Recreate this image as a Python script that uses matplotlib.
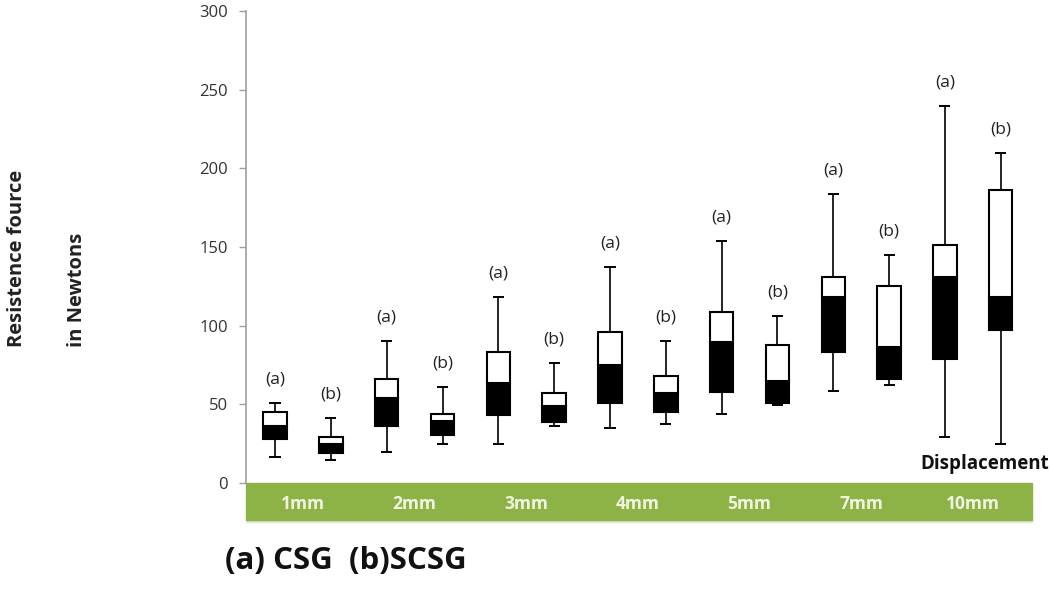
import numpy as np
import matplotlib
matplotlib.use("Agg")
import matplotlib.pyplot as plt
from matplotlib.patches import Rectangle
from matplotlib.transforms import blended_transform_factory

# ── Data ──────────────────────────────────────────────────────────
displacements = ["1mm", "2mm", "3mm", "4mm", "5mm", "7mm", "10mm"]

# (a) CSG
csg_min = [16.5, 20, 25, 35, 44, 58.5, 29.5]
csg_q1 = [28, 36, 43, 51, 58, 83, 78.5]
csg_med = [36, 54, 63.5, 75, 89.5, 118.5, 131]
csg_q3 = [45, 66, 83, 96, 109, 131, 151]
csg_max = [51, 90.5, 118, 137, 153.5, 183.5, 239.5]

# (b) SCSG
scsg_min = [14.5, 25, 36, 37.5, 49.5, 62, 25]
scsg_q1 = [19, 30.5, 38.5, 45, 51, 66, 97]
scsg_med = [25, 39.5, 49, 57, 65, 86.5, 118.5]
scsg_q3 = [29.5, 44, 57, 68, 88, 125, 186]
scsg_max = [41.5, 61, 76.5, 90.5, 106, 145, 209.5]

# ── Style ─────────────────────────────────────────────────────────
_GREEN = "#8db246"
_AXIS = "#a0a0a0"
_TEXT = "#333333"
_FONT = ["Open Sans", "DejaVu Sans"]

plt.rcParams["font.family"] = _FONT

fig = plt.figure(figsize=(10.51, 5.93), dpi=100)
ax = fig.add_axes([246 / 1051, (593 - 483) / 593, (1032 - 246) / 1051, 472 / 593])

x = np.arange(len(displacements))
off, width, cap = 0.25, 0.21, 0.1


def draw_group(xs, lo, q1, med, q3, hi, tag):
    lo, q1, med, q3, hi = map(np.asarray, (lo, q1, med, q3, hi))
    ax.vlines(xs, lo, hi, color="black", lw=1.2, zorder=2)
    ax.hlines(lo, xs - cap / 2, xs + cap / 2, color="black", lw=1.4, zorder=2)
    ax.hlines(hi, xs - cap / 2, xs + cap / 2, color="black", lw=1.4, zorder=2)
    ax.bar(xs, med - q1, width, bottom=q1, color="black",
           edgecolor="black", lw=1.5, zorder=3)
    ax.bar(xs, q3 - med, width, bottom=med, color="white",
           edgecolor="black", lw=1.5, zorder=3)
    for xi, h in zip(xs, hi):
        ax.annotate(tag, xy=(xi, h), xytext=(0, 17), textcoords="offset points",
                    ha="center", va="center", fontsize=12.5, color="#222222")


draw_group(x - off, csg_min, csg_q1, csg_med, csg_q3, csg_max, "(a)")
draw_group(x + off, scsg_min, scsg_q1, scsg_med, scsg_q3, scsg_max, "(b)")

ax.set_xlim(-0.51, len(displacements) - 0.47)
ax.set_ylim(0, 300)
ax.set_yticks(np.arange(0, 301, 50))
ax.tick_params(axis="y", direction="out", length=5, width=1, color=_AXIS,
               labelsize=12, labelcolor=_TEXT, pad=8)
ax.set_xticks([])
for side in ("top", "right", "bottom"):
    ax.spines[side].set_visible(False)
ax.spines["left"].set_color(_AXIS)
ax.spines["left"].set_linewidth(1.2)

# green category band under the axis
band_h = 37 / 472
ax.add_patch(Rectangle((0, -band_h - 0.004), 1, 0.004, transform=ax.transAxes,
                       color="#dfe8cc", clip_on=False, zorder=1))
ax.add_patch(Rectangle((0, -band_h), 1, band_h, transform=ax.transAxes,
                       color=_GREEN, clip_on=False, zorder=1))
trans = blended_transform_factory(ax.transData, ax.transAxes)
for xi, name in zip(x, displacements):
    ax.text(xi, -band_h / 2 - 0.005, name, transform=trans, ha="center",
            va="center", fontsize=12.5, color="#eef4e0", fontweight="bold",
            clip_on=False, zorder=5)

fig.text(985 / 1051, 1 - 464 / 593, "Displacement", ha="center", va="center",
         fontsize=13.5, fontweight="bold", color="#111111")

fig.text(17 / 1051, 1 - 347 / 593, "Resistence fource", rotation=90,
         ha="center", va="bottom", fontsize=14.5, fontweight="bold",
         color="#222222")
fig.text(77 / 1051, 1 - 347 / 593, "in Newtons", rotation=90,
         ha="center", va="bottom", fontsize=14.5, fontweight="bold",
         color="#222222")

fig.text(225 / 1051, 1 - 561 / 593, "(a) CSG  (b)SCSG", ha="left",
         va="center", fontsize=22.5, fontweight="bold", color="#111111")

fig.savefig("out.png", dpi=100, facecolor="white")
